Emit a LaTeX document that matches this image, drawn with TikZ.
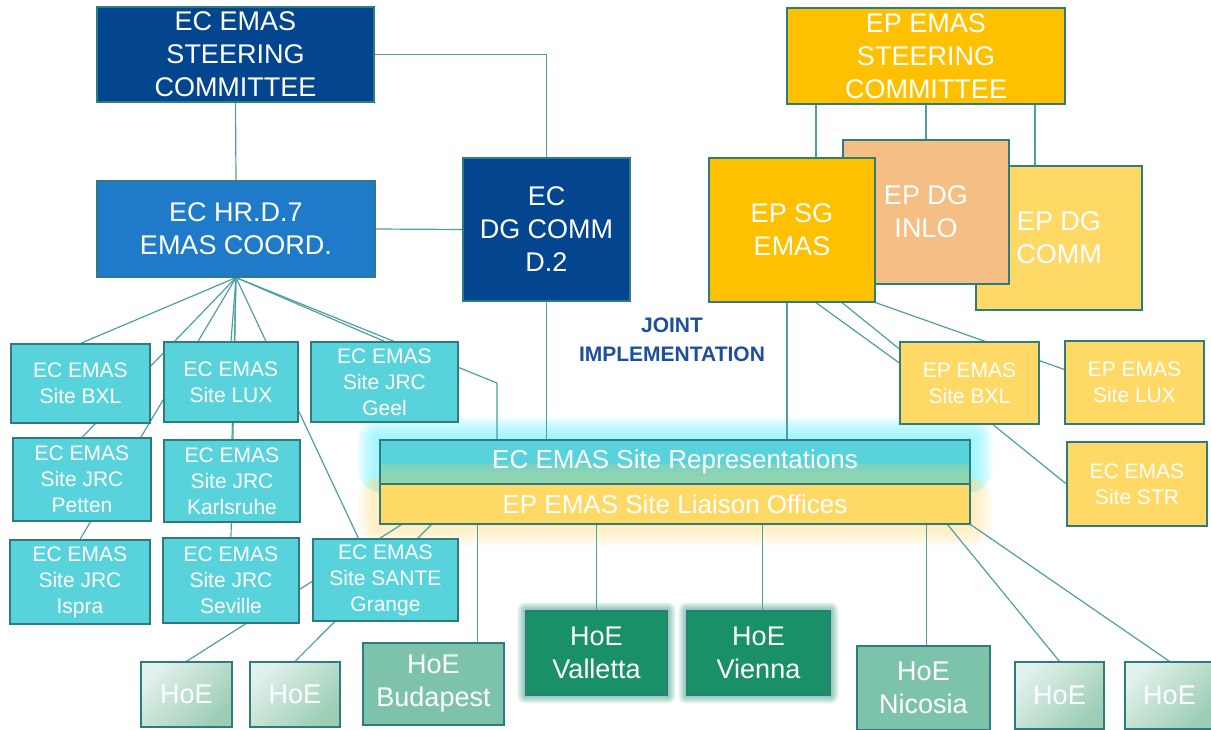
\documentclass[tikz,border=0pt]{standalone}
\usepackage{fontspec}
\setmainfont{Liberation Sans}
\usetikzlibrary{calc}

\definecolor{ecdark}{HTML}{03468F}
\definecolor{ecmid}{HTML}{1F7BC9}
\definecolor{eccyan}{HTML}{59D3DB}
\definecolor{epgold}{HTML}{FFC000}
\definecolor{eppeach}{HTML}{F4BE84}
\definecolor{eplight}{HTML}{FFD966}
\definecolor{hoedark}{HTML}{1A9068}
\definecolor{hoemid}{HTML}{7DC3AA}
\definecolor{hoetop}{HTML}{E2F1EA}
\definecolor{hoebot}{HTML}{9CCDB5}
\definecolor{boxline}{HTML}{2E7B80}
\definecolor{linkcol}{HTML}{4E9EA3}
\definecolor{jointblue}{HTML}{1D4F9E}
\definecolor{glowcyan}{HTML}{7FF2FF}
\definecolor{glowyellow}{HTML}{FFE08A}
\definecolor{repgreen}{HTML}{98D4A8}

\pgfdeclarelayer{glow}
\pgfdeclarelayer{links}
\pgfsetlayers{glow,links,main}

\tikzset{
  box/.style={draw=boxline, line width=1.2pt, text=white, align=center, inner sep=0pt},
  sz/.style 2 args={minimum width=#1pt, minimum height=#2pt},
  big/.style={font=\fontsize{27}{33}\selectfont},
  small/.style={font=\fontsize{21}{26}\selectfont},
  ecsite/.style={box, small, fill=eccyan},
  epsite/.style={box, small, fill=eplight},
  hoelight/.style={box, big, top color=hoetop, bottom color=hoebot, shading angle=45},
  link/.style={draw=linkcol, line width=1.2pt},
}

\begin{document}
\begin{tikzpicture}[x=1pt, y=-1pt]
\useasboundingbox (0,0) rectangle (1211,729);

% EC side
\node (ecsteer) [box, big, fill=ecdark, sz={277}{95}] at (235.5,54.5) {EC EMAS\\STEERING\\COMMITTEE};
\node (eccoord) [box, big, fill=ecmid, sz={278}{96}] at (236,229) {EC HR.D.7\\EMAS COORD.};
\node (ecdgcomm) [box, big, fill=ecdark, sz={167}{143}] at (546.5,229.5) {EC\\DG COMM\\D.2};

% EP side
\node (epsteer) [box, big, fill=epgold, sz={278}{96}] at (926,56) {EP EMAS\\STEERING\\COMMITTEE};
\node (epcomm) [box, big, fill=eplight, sz={166}{144}] at (1059,238) {EP DG\\COMM};
\node (epinlo) [box, big, fill=eppeach, sz={166}{144}] at (926,212) {EP DG\\INLO};
\node (epsg) [box, big, fill=epgold, sz={166}{144}] at (792,230) {EP SG\\EMAS};

\node (joint) [font=\fontsize{21}{29}\selectfont\bfseries, text=jointblue, align=center] at (672,340) {JOINT\\IMPLEMENTATION};

% EC sites
\node (sbxl) [ecsite, sz={139}{79}] at (80.5,383.5) {EC EMAS\\Site BXL};
\node (slux) [ecsite, sz={134}{80}] at (231,382) {EC EMAS\\Site LUX};
\node (sgeel) [ecsite, sz={147}{80}] at (384.5,382) {EC EMAS\\Site JRC\\Geel};
\node (spetten) [ecsite, sz={138}{83}] at (82,479.5) {EC EMAS\\Site JRC\\Petten};
\node (skarls) [ecsite, sz={136}{82}] at (232,481) {EC EMAS\\Site JRC\\Karlsruhe};
\node (sispra) [ecsite, sz={140}{84}] at (80,582) {EC EMAS\\Site JRC\\Ispra};
\node (sseville) [ecsite, sz={136}{85}] at (231,580.5) {EC EMAS\\Site JRC\\Seville};
\node (sgrange) [ecsite, sz={145}{82}] at (385.5,580) {EC EMAS\\Site SANTE\\Grange};

% EP sites
\node (epbxl) [epsite, sz={139}{82}] at (969.5,383) {EP EMAS\\Site BXL};
\node (eplux) [epsite, sz={139}{83}] at (1134.5,382.5) {EP EMAS\\Site LUX};
\node (epstr) [epsite, sz={140}{84}] at (1137,484) {EC EMAS\\Site STR};

% joint boxes
\node (siterep) [box, fill=eccyan, sz={590}{44}, font=\fontsize{26}{30}\selectfont,
  path picture={\shade[top color=eccyan, bottom color=repgreen]
    ($(path picture bounding box.south west)+(0,-20)$) rectangle (path picture bounding box.south east);}]
  at (675,462) {\raisebox{-2pt}{EC EMAS Site Representations}};
\node (liaison) [box, fill=eplight, sz={590}{40}, font=\fontsize{26}{30}\selectfont] at (675,504) {EP EMAS Site Liaison Offices};

% houses of Europe
\node (hoeA) [hoelight, sz={91}{65}] at (186.5,694.5) {HoE};
\node (hoeB) [hoelight, sz={90}{65}] at (295,694.5) {HoE};
\node (hoebud) [box, big, fill=hoemid, sz={141}{82}] at (433.5,684) {HoE\\Budapest};
\node (hoeval) [box, big, fill=hoedark, sz={141}{84}] at (596.5,653) {HoE\\Valletta};
\node (hoevie) [box, big, fill=hoedark, sz={143}{84}] at (758.5,653) {HoE\\Vienna};
\node (hoenic) [box, big, fill=hoemid, sz={133}{84}] at (923.5,688) {HoE\\Nicosia};
\node (hoeC) [hoelight, sz={89}{67}] at (1059.5,695.5) {HoE};
\node (hoeD) [hoelight, sz={89}{67}] at (1169.5,695.5) {HoE};

\coordinate (geelbend) at (497,383);

% glows
\begin{pgfonlayer}{glow}
\foreach \g in {2,4,...,22}
  \fill[glowcyan, opacity=0.11, rounded corners=\g pt]
    ([shift={(-\g pt,\g pt)}]siterep.north west) rectangle ([shift={(\g pt,-8pt)}]siterep.south east);
\foreach \g in {2,4,...,22}
  \fill[glowyellow, opacity=0.07, rounded corners=\g pt]
    ([shift={(-\g pt,6pt)}]liaison.north west) rectangle ([shift={(\g pt,-\g pt)}]liaison.south east);
\foreach \n in {hoeval,hoevie}
  \foreach \g in {1,...,8}
    \fill[hoedark, opacity=0.08, rounded corners=\g pt]
      ([shift={(-\g pt,\g pt)}]\n.north west) rectangle ([shift={(\g pt,-\g pt)}]\n.south east);
\end{pgfonlayer}

% connectors
\begin{pgfonlayer}{links}
\draw [link] (ecsteer.south) -- (eccoord.north);
\draw [link] (ecsteer.east) -| (ecdgcomm.north);
\draw [link] (eccoord.east) -- (ecdgcomm.west);
\draw [link] (ecdgcomm.south) -- (ecdgcomm.south |- siterep.north);

\draw [link] ([xshift=24pt]epsg.north) -- ([xshift=24pt]epsg.north |- epsteer.south);
\draw [link] (epsteer.south) -- (epinlo.north);
\draw [link] ([xshift=-24pt]epcomm.north) -- ([xshift=-24pt]epcomm.north |- epsteer.south);
\draw [link] ([xshift=-5pt]epsg.south) -- ([xshift=-5pt]epsg.south |- siterep.north);
\draw [link] ([xshift=24pt]epsg.south) -- ([yshift=20pt]epbxl.west);
\draw [link] ([xshift=50pt]epsg.south) -- (epstr.west);
\draw [link] (epsg.south east) -- ([yshift=13pt]eplux.west);

\draw [link] (eccoord.south) -- (sbxl.north);
\draw [link] (eccoord.south) -- (spetten.north);
\draw [link] (eccoord.south) -- (sispra.north);
\draw [link] (eccoord.south) -- (slux.north);
\draw [link] (eccoord.south) -- (skarls.north);
\draw [link] (eccoord.south) -- (sseville.north);
\draw [link] (eccoord.south) -- ([xshift=-27pt]sgrange.north);
\draw [link] (eccoord.south) -- (sgeel.north);
\draw [link] (eccoord.south) -- (geelbend) -- (geelbend |- siterep.north);

\draw [link] ([xshift=22pt]liaison.south west) -- (hoeA.north);
\draw [link] ([xshift=52pt]liaison.south west) -- (hoeB.north);
\draw [link] ([xshift=44pt]hoebud.north) -- ([xshift=44pt]hoebud.north |- liaison.south);
\draw [link] (hoeval.north) -- (hoeval.north |- liaison.south);
\draw [link] ([xshift=4pt]hoevie.north) -- ([xshift=4pt]hoevie.north |- liaison.south);
\draw [link] ([xshift=3pt]hoenic.north) -- ([xshift=3pt]hoenic.north |- liaison.south);
\draw [link] ([xshift=-23pt]liaison.south east) -- (hoeC.north);
\draw [link] (liaison.south east) -- (hoeD.north);
\end{pgfonlayer}
\end{tikzpicture}
\end{document}
